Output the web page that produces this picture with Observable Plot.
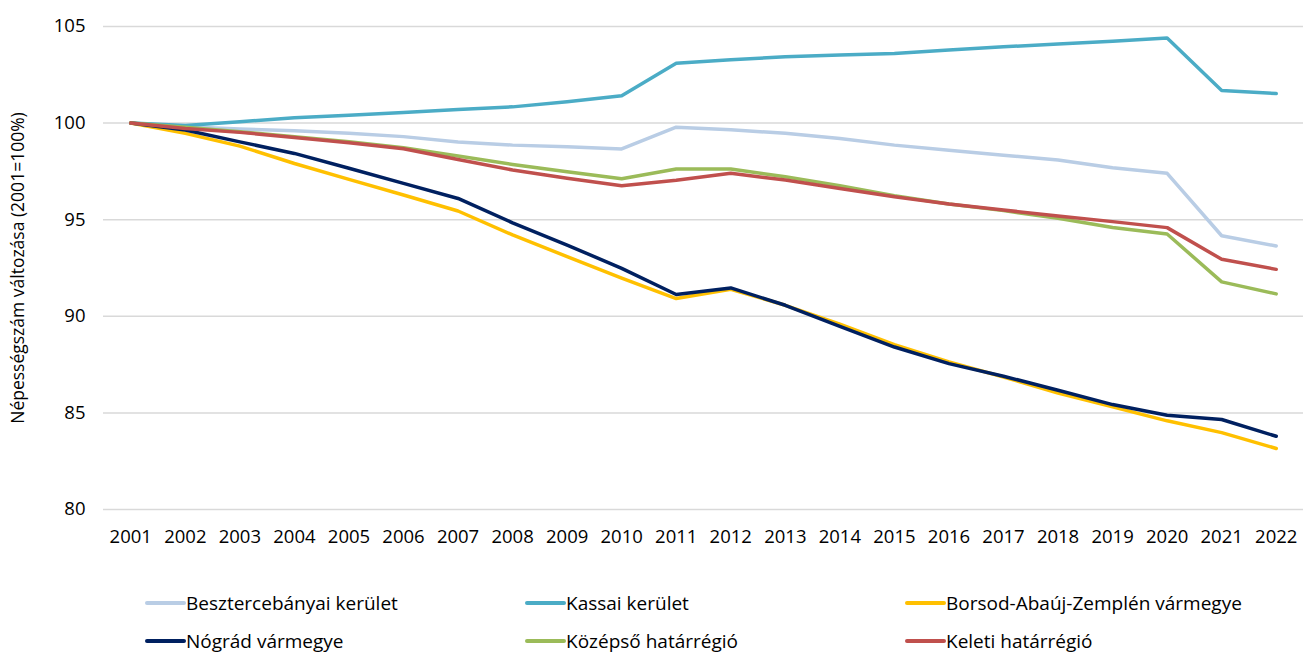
<!DOCTYPE html>
<html>
<head>
<meta charset="utf-8">
<script src="https://cdn.jsdelivr.net/npm/d3@7"></script>
<script src="https://cdn.jsdelivr.net/npm/@observablehq/plot@0.6"></script>
<style>
  body { margin: 0; background: #fff; font-family: "Open Sans", sans-serif; }
  #chart svg { display: block; }
  .legend { display: grid; grid-template-columns: 380px 380px 380px; grid-auto-rows: 38px; margin-left: 145px; padding-top: 24px; font-size: 19px; color: #000; }
  .legend .item { display: flex; align-items: center; white-space: nowrap; }
  .legend .sw { width: 41px; height: 4px; border-radius: 2px; margin-right: 0px; }
</style>
</head>
<body>
<div id="chart"></div>
<div class="legend" id="legend"></div>
<script>
const years = ["2001","2002","2003","2004","2005","2006","2007","2008","2009","2010","2011","2012","2013","2014","2015","2016","2017","2018","2019","2020","2021","2022"];
const seriesNames = ["Besztercebányai kerület","Kassai kerület","Borsod-Abaúj-Zemplén vármegye","Nógrád vármegye","Középső határrégió","Keleti határrégió"];
const seriesColors = ["#b9cde5","#4bacc6","#ffc000","#002060","#9bbb59","#c0504d"];
const besztercebanyai = [100,99.81,99.70,99.60,99.47,99.30,99.02,98.86,98.78,98.66,99.79,99.66,99.47,99.20,98.86,98.60,98.34,98.09,97.69,97.40,94.17,93.64];
const kassai = [100,99.88,100.07,100.28,100.41,100.55,100.70,100.84,101.10,101.41,103.10,103.28,103.43,103.53,103.60,103.78,103.95,104.09,104.24,104.40,101.69,101.53];
const borsod = [100,99.47,98.81,97.91,97.09,96.28,95.45,94.21,93.09,91.97,90.92,91.40,90.57,89.59,88.53,87.64,86.86,86.03,85.31,84.59,83.98,83.16];
const nograd = [100,99.64,99.03,98.43,97.66,96.88,96.10,94.84,93.69,92.48,91.13,91.47,90.57,89.48,88.41,87.55,86.90,86.17,85.43,84.88,84.66,83.79];
const kozepso = [100,99.78,99.55,99.30,99.03,98.72,98.30,97.86,97.48,97.12,97.62,97.62,97.22,96.76,96.24,95.81,95.47,95.07,94.60,94.26,91.78,91.16];
const keleti = [100,99.72,99.52,99.26,98.98,98.67,98.12,97.57,97.14,96.76,97.04,97.40,97.05,96.62,96.19,95.81,95.50,95.19,94.90,94.59,92.95,92.43];
const yTicks = [80,85,90,95,100,105];
const yTitle = "Népességszám változása (2001=100%)";

const allSeries = [besztercebanyai, kassai, borsod, nograd, kozepso, keleti];
const rows = [];
allSeries.forEach((vals, i) => {
  vals.forEach((v, j) => rows.push({series: seriesNames[i], year: years[j], value: v}));
});

const chart = Plot.plot({
  width: 1312,
  height: 560,
  marginLeft: 103,
  marginRight: 9,
  marginTop: 26,
  marginBottom: 51,
  style: { fontFamily: "Open Sans, sans-serif", fontSize: "18.5px", color: "#000" },
  x: { type: "point", domain: years, padding: 0.5, round: false, label: null },
  y: { domain: [80, 105], ticks: yTicks, label: null },
  color: { domain: seriesNames, range: seriesColors },
  marks: [
    Plot.ruleY(yTicks, { stroke: "#d9d9d9", strokeWidth: 1.5 }),
    Plot.axisY({ ticks: yTicks, tickSize: 0, tickPadding: 18, label: null, fontSize: 18.5 }),
    Plot.axisX({ tickSize: 0, tickPadding: 20, label: null, fontSize: 18.5 }),
    Plot.text([yTitle], { text: d => d, frameAnchor: "left", textAnchor: "middle", rotate: -90, dx: -85, fontSize: 17.5, fill: "#000" }),
    Plot.line(rows, { x: "year", y: "value", z: "series", stroke: "series", strokeWidth: 3.5, strokeLinejoin: "round" })
  ]
});
document.getElementById("chart").appendChild(chart);

const legend = document.getElementById("legend");
seriesNames.forEach((name, i) => {
  const item = document.createElement("div");
  item.className = "item";
  const sw = document.createElement("span");
  sw.className = "sw";
  sw.style.background = seriesColors[i];
  const label = document.createElement("span");
  label.textContent = name;
  item.appendChild(sw);
  item.appendChild(label);
  legend.appendChild(item);
});
</script>
</body>
</html>
